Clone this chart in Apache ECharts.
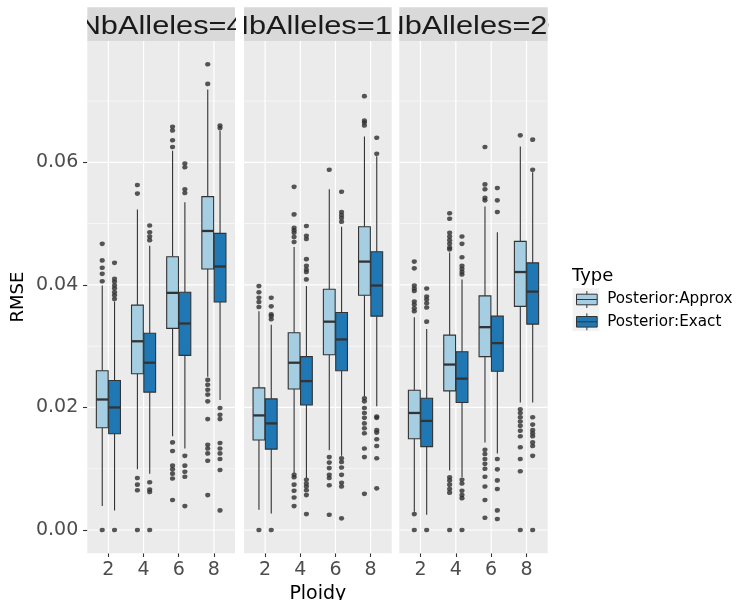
<!DOCTYPE html>
<html>
<head>
<meta charset="utf-8">
<script src="https://cdn.jsdelivr.net/npm/echarts@6/dist/echarts.min.js"></script>
<style>
  html, body { margin: 0; padding: 0; background: #ffffff; }
  #chart { width: 745px; height: 600px; }
</style>
</head>
<body>
<div id="chart"></div>
<script>
// Facets, categories and types
const facetLabels = ['NbAlleles=4', 'NbAlleles=10', 'NbAlleles=20'];
const ploidyLabels = ['2', '4', '6', '8'];
const typeNames = ['Posterior:Approx', 'Posterior:Exact'];
const typeColors = ['#A6CEE3', '#1F78B4'];

// Box statistics for ploidy 2, 4, 6, 8: [lower whisker, Q1, median, Q3, upper whisker]
const approxNb4 = [
  [0.0039, 0.0167, 0.0213, 0.0260, 0.0399],
  [0.0099, 0.0255, 0.0308, 0.0367, 0.0523],
  [0.0153, 0.0329, 0.0387, 0.0446, 0.0619],
  [0.0250, 0.0426, 0.0488, 0.0544, 0.0719]
];
const exactNb4 = [
  [0.0032, 0.0157, 0.0200, 0.0244, 0.0373],
  [0.0092, 0.0225, 0.0273, 0.0321, 0.0464],
  [0.0133, 0.0285, 0.0337, 0.0388, 0.0535],
  [0.0212, 0.0372, 0.0430, 0.0484, 0.0652]
];
const approxNb10 = [
  [0.0033, 0.0147, 0.0187, 0.0232, 0.0357],
  [0.0093, 0.0230, 0.0273, 0.0322, 0.0462],
  [0.0130, 0.0286, 0.0340, 0.0393, 0.0556],
  [0.0218, 0.0383, 0.0438, 0.0495, 0.0642]
];
const exactNb10 = [
  [0.0027, 0.0132, 0.0174, 0.0214, 0.0335],
  [0.0085, 0.0204, 0.0243, 0.0283, 0.0398],
  [0.0121, 0.0260, 0.0311, 0.0355, 0.0495],
  [0.0202, 0.0349, 0.0399, 0.0454, 0.0610]
];
const approxNb20 = [
  [0.0030, 0.0149, 0.0191, 0.0228, 0.0347],
  [0.0097, 0.0227, 0.0270, 0.0318, 0.0453],
  [0.0143, 0.0283, 0.0331, 0.0382, 0.0528],
  [0.0208, 0.0365, 0.0421, 0.0471, 0.0626]
];
const exactNb20 = [
  [0.0025, 0.0136, 0.0178, 0.0215, 0.0328],
  [0.0086, 0.0208, 0.0247, 0.0291, 0.0409],
  [0.0125, 0.0259, 0.0305, 0.0349, 0.0486],
  [0.0208, 0.0336, 0.0389, 0.0436, 0.0584]
];

// Outlying points for ploidy 2, 4, 6, 8
const approxNb4Out = [
  [0.0467, 0.0440, 0.0428, 0.0418, 0.0406, 0.0000],
  [0.0563, 0.0549, 0.0085, 0.0074, 0.0065, 0.0000],
  [0.0658, 0.0652, 0.0636, 0.0625, 0.0143, 0.0129, 0.0105, 0.0099, 0.0092, 0.0084, 0.0049],
  [0.0760, 0.0728, 0.0245, 0.0237, 0.0229, 0.0221, 0.0210, 0.0181, 0.0139, 0.0133, 0.0125, 0.0113, 0.0057]
];
const exactNb4Out = [
  [0.0436, 0.0410, 0.0405, 0.0399, 0.0394, 0.0388, 0.0383, 0.0377, 0.0000],
  [0.0497, 0.0486, 0.0479, 0.0473, 0.0078, 0.0066, 0.0062, 0.0000],
  [0.0598, 0.0592, 0.0556, 0.0550, 0.0121, 0.0105, 0.0095, 0.0087, 0.0039],
  [0.0660, 0.0656, 0.0199, 0.0188, 0.0181, 0.0142, 0.0133, 0.0125, 0.0116, 0.0098, 0.0032]
];
const approxNb10Out = [
  [0.0398, 0.0388, 0.0379, 0.0372, 0.0364, 0.0000],
  [0.0560, 0.0515, 0.0493, 0.0489, 0.0485, 0.0478, 0.0470, 0.0090, 0.0086, 0.0074, 0.0064, 0.0053, 0.0039],
  [0.0588, 0.0119, 0.0110, 0.0101, 0.0090, 0.0085, 0.0073, 0.0025],
  [0.0708, 0.0668, 0.0665, 0.0660, 0.0215, 0.0210, 0.0199, 0.0191, 0.0183, 0.0174, 0.0166, 0.0158, 0.0133, 0.0119, 0.0059]
];
const exactNb10Out = [
  [0.0379, 0.0365, 0.0352, 0.0349, 0.0344, 0.0000],
  [0.0496, 0.0480, 0.0475, 0.0442, 0.0431, 0.0425, 0.0421, 0.0409, 0.0082, 0.0076, 0.0071, 0.0065, 0.0057, 0.0026],
  [0.0552, 0.0519, 0.0514, 0.0509, 0.0503, 0.0117, 0.0111, 0.0102, 0.0090, 0.0077, 0.0071, 0.0019],
  [0.0640, 0.0614, 0.0185, 0.0183, 0.0163, 0.0159, 0.0148, 0.0137, 0.0117, 0.0068]
];
const approxNb20Out = [
  [0.0438, 0.0427, 0.0399, 0.0394, 0.0390, 0.0373, 0.0368, 0.0362, 0.0357, 0.0026, 0.0000],
  [0.0517, 0.0508, 0.0485, 0.0479, 0.0473, 0.0467, 0.0461, 0.0458, 0.0086, 0.0081, 0.0074, 0.0067, 0.0061, 0.0000],
  [0.0625, 0.0564, 0.0556, 0.0542, 0.0538, 0.0131, 0.0124, 0.0116, 0.0108, 0.0100, 0.0087, 0.0071, 0.0049, 0.0020],
  [0.0644, 0.0197, 0.0191, 0.0184, 0.0177, 0.0170, 0.0162, 0.0153, 0.0135, 0.0116, 0.0096, 0.0000]
];
const exactNb20Out = [
  [0.0394, 0.0381, 0.0376, 0.0370, 0.0363, 0.0340, 0.0000],
  [0.0479, 0.0467, 0.0445, 0.0431, 0.0426, 0.0421, 0.0417, 0.0082, 0.0076, 0.0064, 0.0057, 0.0052, 0.0000],
  [0.0558, 0.0538, 0.0519, 0.0116, 0.0099, 0.0081, 0.0067, 0.0032, 0.0018],
  [0.0637, 0.0588, 0.0184, 0.0172, 0.0163, 0.0158, 0.0153, 0.0143, 0.0137, 0.0121, 0.0000]
];

// Axis ticks and gridlines
const yTicks = [0, 0.02, 0.04, 0.06];
const yMinorTicks = [0.01, 0.03, 0.05, 0.07];
const yRange = [-0.0038, 0.0798];

const boxStats = [[approxNb4, exactNb4], [approxNb10, exactNb10], [approxNb20, exactNb20]];
const outlierSets = [[approxNb4Out, exactNb4Out], [approxNb10Out, exactNb10Out], [approxNb20Out, exactNb20Out]];

const FONT = 'DejaVu Sans';
const STRIP_FONT = 'Liberation Sans';
const INK = '#333333';
const DODGE = [-0.175, 0.175];
const BOX_WIDTH = 0.335;
const xPositions = ploidyLabels.map((_, i) => i + 1);

// Facet panel geometry (pixels)
const panelLeft = [87.3, 244.0, 399.3];
const panelWidth = [147.7, 147.7, 148.4];
const panelTop = 41;
const panelBottom = 46.7;
const stripTop = 7.3;
const stripHeight = 33.7;

const grids = [];
const xAxes = [];
const yAxes = [];
const series = [];

function boxRenderer(offset) {
  return function (params, api) {
    const x = api.value(0) + offset;
    const lo = api.coord([x, api.value(1)]);
    const q1 = api.coord([x, api.value(2)]);
    const md = api.coord([x, api.value(3)]);
    const q3 = api.coord([x, api.value(4)]);
    const hi = api.coord([x, api.value(5)]);
    const w = api.size([BOX_WIDTH, 0])[0];
    const cx = q1[0];
    const ls = { stroke: INK, lineWidth: 1.1 };
    return {
      type: 'group',
      children: [
        { type: 'line', shape: { x1: cx, y1: hi[1], x2: cx, y2: q3[1] }, style: ls },
        { type: 'line', shape: { x1: cx, y1: q1[1], x2: cx, y2: lo[1] }, style: ls },
        { type: 'rect', shape: { x: cx - w / 2, y: q3[1], width: w, height: q1[1] - q3[1] },
          style: { fill: api.visual('color'), stroke: INK, lineWidth: 1.1 } },
        { type: 'line', shape: { x1: cx - w / 2, y1: md[1], x2: cx + w / 2, y2: md[1] },
          style: { stroke: INK, lineWidth: 2.3 } }
      ]
    };
  };
}

facetLabels.forEach((label, k) => {
  // data panel
  grids.push({
    left: panelLeft[k], width: panelWidth[k], top: panelTop, bottom: panelBottom,
    outerBoundsMode: 'none', containLabel: false,
    show: true, backgroundColor: '#EBEBEB', borderWidth: 0
  });
  xAxes.push({
    gridIndex: k, type: 'value', min: 0.4, max: 4.6,
    axisLine: { show: false, onZero: false },
    splitLine: { show: false },
    axisTick: { show: true, length: 3.7, lineStyle: { color: INK, width: 1.1 }, customValues: xPositions },
    axisLabel: {
      customValues: xPositions,
      formatter: v => ploidyLabels[Math.round(v) - 1],
      fontFamily: FONT, fontSize: 19, color: '#4D4D4D', margin: 7.5
    },
    name: k === 1 ? 'Ploidy' : '',
    nameLocation: 'middle', nameGap: 27,
    nameTextStyle: { fontFamily: FONT, fontSize: 19, color: '#000000' }
  });
  yAxes.push({
    gridIndex: k, type: 'value', min: yRange[0], max: yRange[1],
    axisLine: { show: false, onZero: false },
    splitLine: { show: false },
    axisTick: { show: k === 0, length: 4.3, lineStyle: { color: INK, width: 1.1 }, customValues: yTicks },
    axisLabel: {
      show: k === 0, customValues: yTicks,
      formatter: v => v.toFixed(2),
      fontFamily: FONT, fontSize: 19, color: '#4D4D4D', margin: 9
    },
    name: k === 0 ? 'RMSE' : '',
    nameLocation: 'middle', nameGap: 60, nameRotate: 90,
    nameTextStyle: { fontFamily: FONT, fontSize: 18, color: '#000000' }
  });

  // horizontal gridlines (major and minor)
  series.push({
    type: 'custom', xAxisIndex: k, yAxisIndex: k, silent: true, z: 1,
    data: yTicks.map(v => [v, 1]).concat(yMinorTicks.map(v => [v, 0])),
    encode: { y: 0 },
    renderItem: (params, api) => {
      const cs = params.coordSys;
      const y = api.coord([1, api.value(0)])[1];
      return { type: 'line', shape: { x1: cs.x, y1: y, x2: cs.x + cs.width, y2: y },
        style: { stroke: '#FFFFFF', lineWidth: api.value(1) ? 1.2 : 0.6 } };
    }
  });
  // vertical gridlines at each ploidy
  series.push({
    type: 'custom', xAxisIndex: k, yAxisIndex: k, silent: true, z: 1,
    data: xPositions.map(v => [v, 0]),
    encode: { x: 0 },
    renderItem: (params, api) => {
      const cs = params.coordSys;
      const x = api.coord([api.value(0), 0])[0];
      return { type: 'line', shape: { x1: x, y1: cs.y, x2: x, y2: cs.y + cs.height },
        style: { stroke: '#FFFFFF', lineWidth: 1.2 } };
    }
  });

  // boxes and outliers for each type
  typeNames.forEach((name, t) => {
    series.push({
      type: 'custom', name: name, xAxisIndex: k, yAxisIndex: k, z: 2,
      itemStyle: { color: typeColors[t] },
      data: boxStats[k][t].map((s, i) => [xPositions[i]].concat(s)),
      encode: { x: 0, y: [1, 2, 3, 4, 5] },
      renderItem: boxRenderer(DODGE[t])
    });
    const pts = [];
    outlierSets[k][t].forEach((vals, i) => {
      vals.forEach(v => pts.push([xPositions[i] + DODGE[t], v]));
    });
    series.push({
      type: 'scatter', name: name + ' outliers', xAxisIndex: k, yAxisIndex: k, z: 3,
      symbol: 'circle', symbolSize: [5.2, 4.6],
      itemStyle: { color: '#2E2E2E' },
      data: pts
    });
  });
});

// facet strips, with the label clipped to the strip
facetLabels.forEach((label, k) => {
  const g = grids.length;
  grids.push({
    left: panelLeft[k], width: panelWidth[k], top: stripTop, height: stripHeight,
    outerBoundsMode: 'none', containLabel: false,
    show: true, backgroundColor: '#D9D9D9', borderWidth: 0
  });
  xAxes.push({ gridIndex: g, type: 'value', min: 0, max: 1, show: false });
  yAxes.push({ gridIndex: g, type: 'value', min: 0, max: 1, show: false });
  series.push({
    type: 'custom', xAxisIndex: g, yAxisIndex: g, silent: true, clip: true, z: 2,
    data: [[0.5, 0.5]],
    renderItem: (params, api) => {
      const p = api.coord([api.value(0), api.value(1)]);
      return { type: 'text', x: p[0], y: p[1] + 2.5, scaleX: 1.17,
        style: { text: label, fontFamily: STRIP_FONT, fontSize: 26.3, fill: '#1A1A1A',
          align: 'center', verticalAlign: 'middle' } };
    }
  });
});

const chart = echarts.init(document.getElementById('chart'), null, { renderer: 'canvas' });
chart.setOption({
  backgroundColor: '#FFFFFF',
  animation: false,
  title: {
    text: 'Type', left: 572, top: 267.5, padding: 0,
    textStyle: { fontFamily: FONT, fontSize: 18, fontWeight: 'normal', color: '#000000' }
  },
  legend: {
    data: typeNames, orient: 'vertical', left: 576, top: 290.5, padding: 0,
    itemWidth: 20.7, itemHeight: 17, itemGap: 4.3, selectedMode: false,
    icon: 'path://M0,3.2L20.7,3.2L20.7,13.8L0,13.8Z M0,8.5L20.7,8.5 M10.35,0L10.35,3.2 M10.35,13.8L10.35,17',
    itemStyle: { borderColor: INK, borderWidth: 1 },
    textStyle: { fontFamily: FONT, fontSize: 15.2, color: '#000000', padding: [0, 0, 0, 5] }
  },
  graphic: [{
    type: 'rect', z: 0, silent: true,
    shape: { x: 572.7, y: 288.3, width: 26.6, height: 42.7 },
    style: { fill: '#F2F2F2' }
  }],
  grid: grids,
  xAxis: xAxes,
  yAxis: yAxes,
  series: series
});
</script>
</body>
</html>
